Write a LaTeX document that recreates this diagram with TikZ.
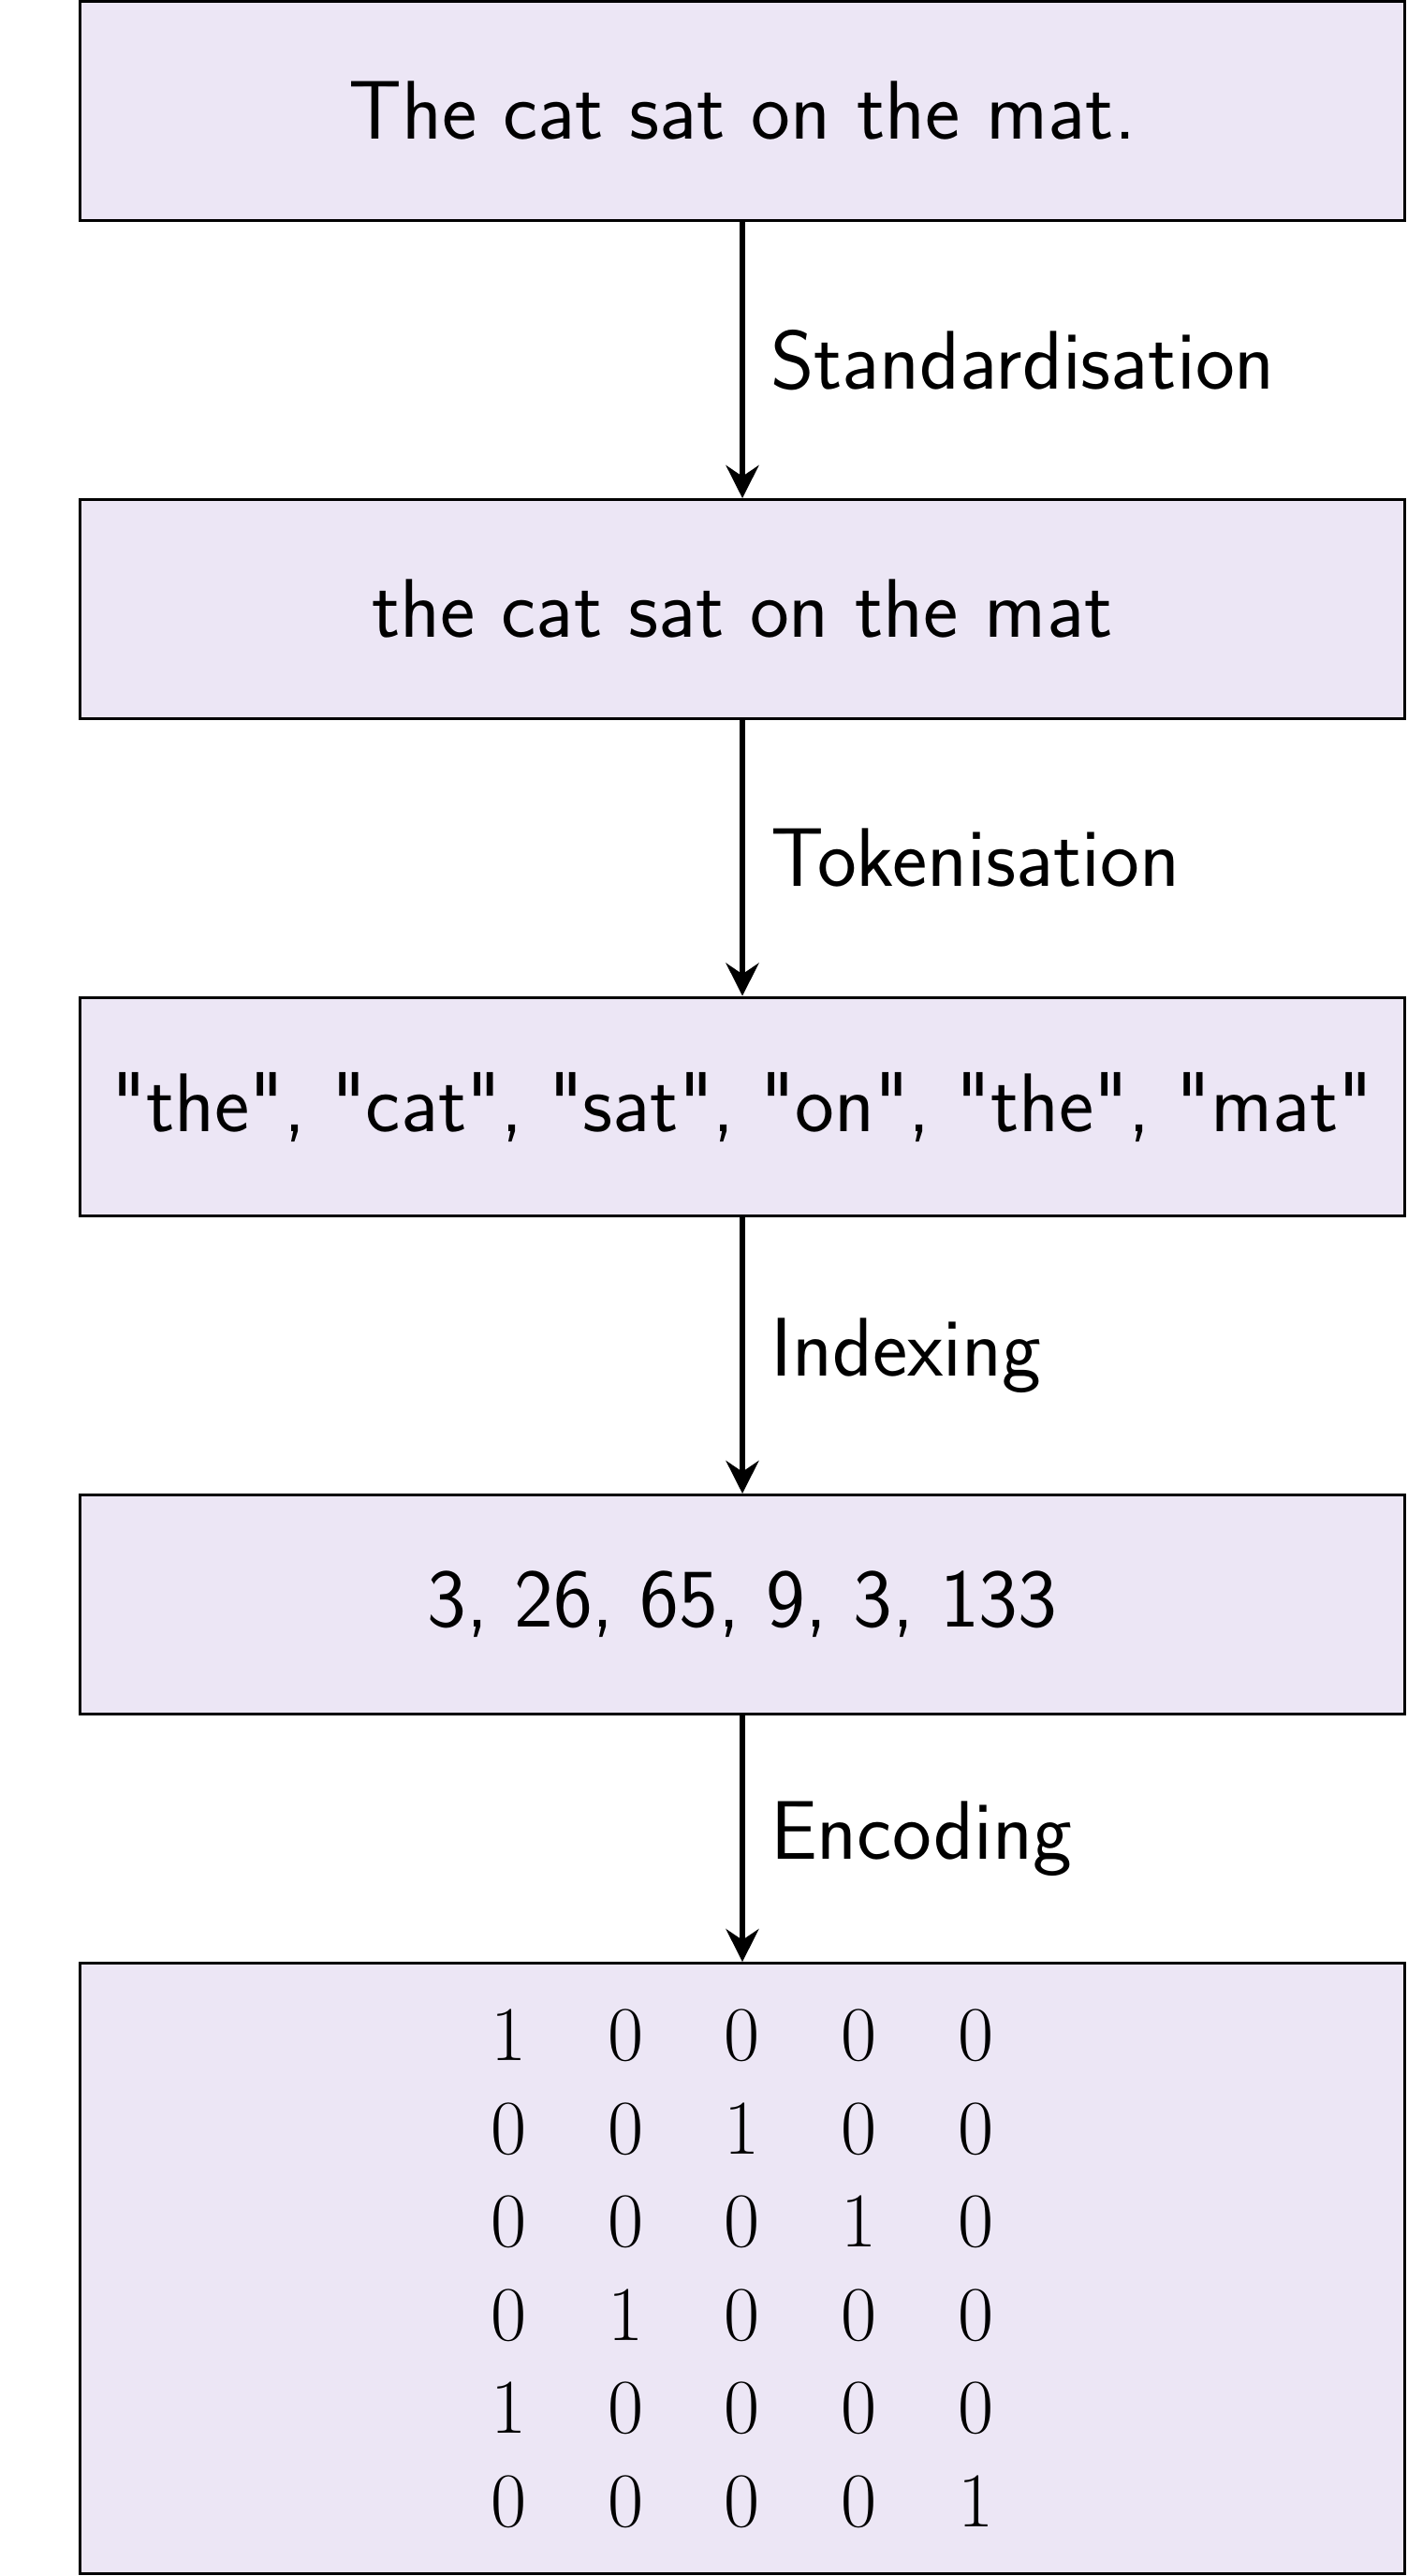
\documentclass[tikz,border=0pt]{standalone}
\usepackage{fontspec}
\setsansfont{Latin Modern Sans}[Ligatures=TeXOff]
\usepackage{xcolor}
\usepackage{tikz}
\usetikzlibrary{arrows.meta, positioning}

\definecolor{stagefill}{RGB}{236,230,245}

\begin{document}
\begin{tikzpicture}[
        stage/.style={rectangle, draw, line width=0.9pt, fill=stagefill, align=center,
                font=\fontsize{26.7}{32}\selectfont\sffamily, minimum width=14.95cm, minimum height=2.47cm},
        flow/.style={draw, line width=1.8pt, -{Stealth[length=10.5pt,width=10.5pt,inset=3.5pt]}},
        lbl/.style={font=\fontsize{26.7}{32}\selectfont\sffamily, midway, right=4.8pt}
        ]
        \useasboundingbox (0,0) rectangle (15.88,-29.05);

        \node[stage] (st1) at (8.374, -1.251)  {The cat sat on the mat.};
        \node[stage] (st2) at (8.374, -6.869)  {the cat sat on the mat};
        \node[stage] (st3) at (8.374, -12.482) {"the", "cat", "sat", "on", "the", "mat"};
        \node[stage] (st4) at (8.374, -18.094) {3, 26, 65, 9, 3, 133};
        \node[stage, font=\fontsize{26.1}{29.9}\selectfont, minimum height=6.885cm] (st5) at (8.374, -25.582)
                {$1\quad0\quad0\quad0\quad0$\\
                 $0\quad0\quad1\quad0\quad0$\\
                 $0\quad0\quad0\quad1\quad0$\\
                 $0\quad1\quad0\quad0\quad0$\\
                 $1\quad0\quad0\quad0\quad0$\\
                 $0\quad0\quad0\quad0\quad1$};

        % pipeline steps
        \draw[flow] (st1) -- node[lbl] {Standardisation} (st2);
        \draw[flow] (st2) -- node[lbl] {Tokenisation} (st3);
        \draw[flow] (st3) -- node[lbl] {Indexing} (st4);
        \draw[flow] (st4) -- node[lbl] {Encoding} (st5);
    \end{tikzpicture}
\end{document}
